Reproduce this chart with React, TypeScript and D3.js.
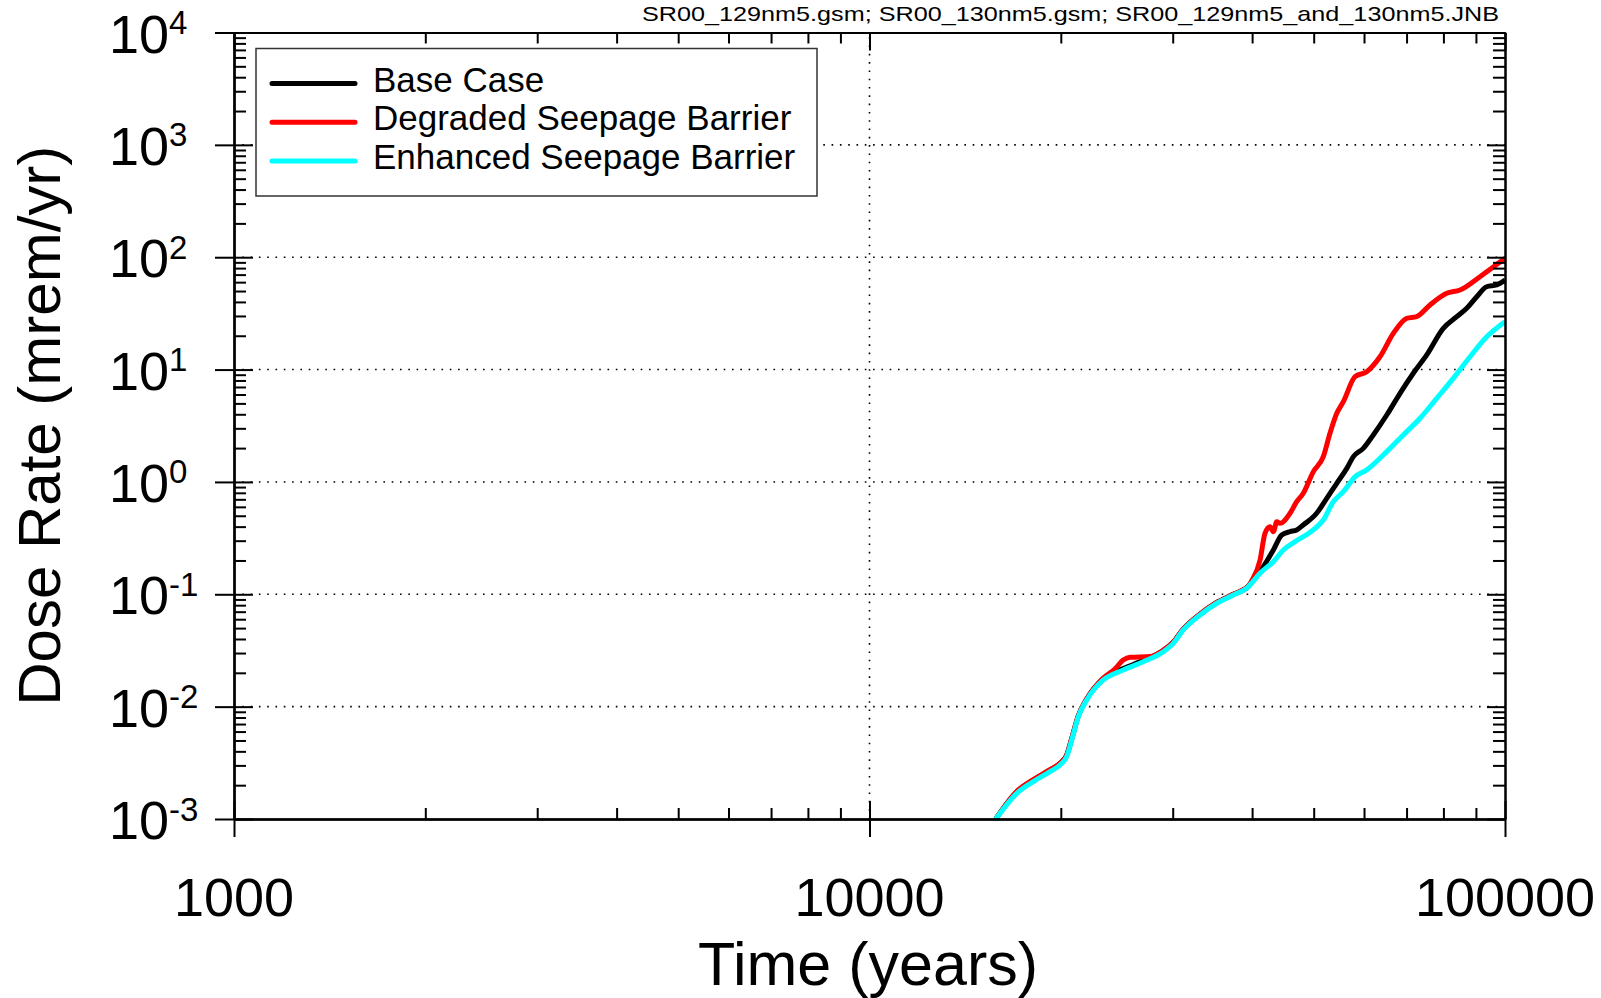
import React, { useEffect, useRef } from 'react';
import * as d3 from 'd3';

// values (time in years, dose rate in mrem/yr)
const baseTime = [15800, 17050, 18100, 19230, 19940, 20430, 20810, 21310, 21970, 23330, 25080, 26970, 28990, 30060, 31170, 33120, 35190, 37370, 39460, 39940, 41660, 43200, 44530, 45890, 47010, 48150, 50540, 52420, 54360, 56370, 57730, 59840, 62050, 65150, 68360, 71730, 75310, 79960, 83950, 87050, 90270, 93580, 97030, 100000];
const baseDose = [0.001, 0.00175, 0.00222, 0.00272, 0.00312, 0.0037, 0.0052, 0.0083, 0.0117, 0.0178, 0.0218, 0.0258, 0.0316, 0.0374, 0.049, 0.0665, 0.0845, 0.1, 0.118, 0.129, 0.176, 0.248, 0.337, 0.361, 0.374, 0.414, 0.526, 0.715, 0.973, 1.32, 1.68, 1.99, 2.62, 3.94, 6.15, 9.27, 13.5, 23.3, 29.6, 35.1, 44.5, 54.6, 56.6, 62.7];

const degradedTime = [15800, 17050, 18100, 19230, 19940, 20430, 20810, 21310, 21970, 23330, 24300, 25080, 25700, 27630, 28990, 30060, 31170, 33120, 35190, 37370, 39460, 39940, 41170, 41910, 42680, 43200, 43740, 44260, 45890, 47010, 48150, 49920, 51770, 53040, 54360, 55670, 58080, 60590, 63570, 66720, 70030, 72620, 76210, 80950, 84960, 91330, 100000];
const degradedDose = [0.001, 0.00176, 0.00224, 0.00275, 0.00314, 0.0037, 0.0052, 0.0083, 0.0117, 0.018, 0.0215, 0.026, 0.0275, 0.0279, 0.0318, 0.0375, 0.049, 0.0665, 0.0845, 0.1, 0.118, 0.132, 0.202, 0.349, 0.4, 0.361, 0.443, 0.428, 0.526, 0.667, 0.792, 1.23, 1.68, 2.71, 4.08, 5.18, 8.64, 9.57, 13.0, 21.0, 28.6, 29.6, 37.6, 47.7, 51.1, 67.1, 97.8];

const enhancedTime = [15800, 17050, 18100, 19230, 19940, 20430, 20810, 21310, 21970, 23330, 25080, 26970, 28990, 30060, 31170, 33120, 35190, 37370, 39460, 39940, 41170, 43200, 44790, 46730, 49920, 51770, 53680, 55670, 58080, 60590, 65150, 69180, 73520, 78080, 82900, 88100, 93580, 100000];
const enhancedDose = [0.001, 0.00169, 0.00215, 0.00264, 0.00303, 0.00359, 0.00505, 0.00814, 0.01147, 0.01727, 0.0212, 0.0251, 0.0308, 0.0366, 0.0481, 0.0654, 0.0832, 0.0986, 0.1168, 0.126, 0.154, 0.195, 0.248, 0.294, 0.374, 0.458, 0.667, 0.819, 1.11, 1.28, 1.86, 2.62, 3.69, 5.55, 8.36, 13.0, 19.6, 26.7];

const seriesNames = ['Base Case', 'Degraded Seepage Barrier', 'Enhanced Seepage Barrier'];
const seriesColors = ['#000000', '#ff0000', '#00ffff'];

const xTickValues = [1000, 10000, 100000];
const xTickLabels = ['1000', '10000', '100000'];
const yTickValues = [1e-3, 1e-2, 1e-1, 1, 10, 100, 1000, 10000];
const yTickExponents = ['-3', '-2', '-1', '0', '1', '2', '3', '4'];
const yGridValues = [1e-2, 1e-1, 1, 10, 100, 1000];

const titleText = 'SR00_129nm5.gsm; SR00_130nm5.gsm; SR00_129nm5_and_130nm5.JNB';
const xLabel = 'Time (years)';
const yLabel = 'Dose Rate (mrem/yr)';

const font = "'Liberation Sans', Arial, Helvetica, sans-serif";

const App: React.FC = () => {
    const chartRef = useRef<SVGSVGElement | null>(null);

    useEffect(() => {
        if (!chartRef.current) return;
        document.body.style.margin = '0';

        const width = 1601;
        const height = 998;
        const margin = { top: 32.5, right: 96, bottom: 179, left: 234 };

        const svg = d3.select(chartRef.current);
        svg.selectAll('*').remove();
        svg.attr('width', width).attr('height', height);

        const x = d3.scaleLog()
            .domain([1000, 100000])
            .range([margin.left, width - margin.right]);
        const y = d3.scaleLog()
            .domain([1e-3, 1e4])
            .range([height - margin.bottom, margin.top]);

        const isMajor = (d: number) => Math.abs(Math.log10(d) - Math.round(Math.log10(d))) < 1e-6;
        const xMinor = x.ticks().filter(d => !isMajor(d));
        const yMinor = y.ticks().filter(d => !isMajor(d));

        // dotted grid
        const grid = svg.append('g')
            .attr('stroke', '#000')
            .attr('stroke-width', 1.6)
            .attr('stroke-dasharray', '1.6 6.7');
        grid.selectAll('line.h')
            .data(yGridValues)
            .enter()
            .append('line')
            .attr('class', 'h')
            .attr('x1', x(1000))
            .attr('x2', x(100000))
            .attr('y1', d => y(d))
            .attr('y2', d => y(d));
        grid.append('line')
            .attr('x1', x(10000))
            .attr('x2', x(10000))
            .attr('y1', y(1e-3))
            .attr('y2', y(1e4));

        // curves
        const line = d3.line<[number, number]>()
            .x(d => x(d[0]))
            .y(d => y(d[1]))
            .curve(d3.curveMonotoneX);

        const series = [
            { time: baseTime, dose: baseDose },
            { time: degradedTime, dose: degradedDose },
            { time: enhancedTime, dose: enhancedDose },
        ];
        series.forEach((s, i) => {
            const pts = s.time.map((t, j) => [t, s.dose[j]] as [number, number]);
            svg.append('path')
                .datum(pts)
                .attr('fill', 'none')
                .attr('stroke', seriesColors[i])
                .attr('stroke-width', 5)
                .attr('stroke-linejoin', 'round')
                .attr('d', line);
        });

        // legend
        const legend = svg.append('g');
        legend.append('rect')
            .attr('x', 256)
            .attr('y', 48.5)
            .attr('width', 561)
            .attr('height', 147.5)
            .attr('fill', '#fff')
            .attr('stroke', '#333')
            .attr('stroke-width', 1.5);
        seriesNames.forEach((name, i) => {
            const ly = 83.5 + i * 38.7;
            legend.append('line')
                .attr('x1', 272)
                .attr('x2', 355)
                .attr('y1', ly)
                .attr('y2', ly)
                .attr('stroke', seriesColors[i])
                .attr('stroke-width', 5)
                .attr('stroke-linecap', 'round');
            legend.append('text')
                .attr('x', 373)
                .attr('y', ly + 8)
                .attr('font-family', font)
                .attr('font-size', 35)
                .attr('fill', '#000')
                .text(name);
        });

        // axes (ticks only, labels drawn separately)
        const x0 = x(1000), x1 = x(100000), y0 = y(1e-3), y1 = y(1e4);
        const addAxis = (axis: d3.Axis<number>, tx: number, ty: number) => {
            const g = svg.append('g')
                .attr('transform', `translate(${tx},${ty})`)
                .call(axis.tickSizeOuter(0).tickFormat(() => '') as any);
            g.selectAll('path, line').attr('stroke', '#000').attr('stroke-width', 2);
            g.selectAll('text').remove();
        };
        // left: major ticks cross the axis
        addAxis(d3.axisLeft<number>(y).tickValues(yTickValues).tickSize(19), x0, 0);
        addAxis(d3.axisRight<number>(y).tickValues(yTickValues).tickSize(19), x0, 0);
        addAxis(d3.axisRight<number>(y).tickValues(yMinor).tickSize(12), x0, 0);
        // right: inward
        addAxis(d3.axisLeft<number>(y).tickValues(yTickValues).tickSize(18), x1, 0);
        addAxis(d3.axisLeft<number>(y).tickValues(yMinor).tickSize(12), x1, 0);
        // bottom
        addAxis(d3.axisBottom<number>(x).tickValues(xTickValues).tickSize(18), 0, y0);
        addAxis(d3.axisTop<number>(x).tickValues(xTickValues).tickSize(18), 0, y0);
        addAxis(d3.axisTop<number>(x).tickValues(xMinor).tickSize(11), 0, y0);
        // top: inward
        addAxis(d3.axisBottom<number>(x).tickValues(xTickValues).tickSize(18), 0, y1);
        addAxis(d3.axisBottom<number>(x).tickValues(xMinor).tickSize(11), 0, y1);

        // y tick labels 10^n
        yTickValues.forEach((d, i) => {
            const t = svg.append('text')
                .attr('x', 109)
                .attr('y', y(d) + 20)
                .attr('font-family', font)
                .attr('font-size', 54)
                .attr('fill', '#000');
            t.append('tspan').text('10');
            t.append('tspan')
                .attr('font-size', 33)
                .attr('dy', -18.5)
                .text(yTickExponents[i]);
        });

        // x tick labels
        svg.selectAll('text.xt')
            .data(xTickValues)
            .enter()
            .append('text')
            .attr('class', 'xt')
            .attr('x', d => x(d))
            .attr('y', 916)
            .attr('text-anchor', 'middle')
            .attr('font-family', font)
            .attr('font-size', 54)
            .attr('fill', '#000')
            .text((d, i) => xTickLabels[i]);

        // axis titles
        svg.append('text')
            .attr('x', 868)
            .attr('y', 985)
            .attr('text-anchor', 'middle')
            .attr('font-family', font)
            .attr('font-size', 61)
            .attr('fill', '#000')
            .text(xLabel);
        svg.append('text')
            .attr('transform', `translate(60, ${(y0 + y1) / 2}) rotate(-90)`)
            .attr('text-anchor', 'middle')
            .attr('font-family', font)
            .attr('font-size', 60)
            .attr('fill', '#000')
            .text(yLabel);

        // file title
        svg.append('text')
            .attr('x', 642)
            .attr('y', 21)
            .attr('font-family', font)
            .attr('font-size', 21)
            .attr('textLength', 857)
            .attr('lengthAdjust', 'spacingAndGlyphs')
            .attr('fill', '#000')
            .text(titleText);
    }, []);

    return <svg ref={chartRef} style={{ position: 'absolute', left: 0, top: 0 }} />;
};

export default App;
